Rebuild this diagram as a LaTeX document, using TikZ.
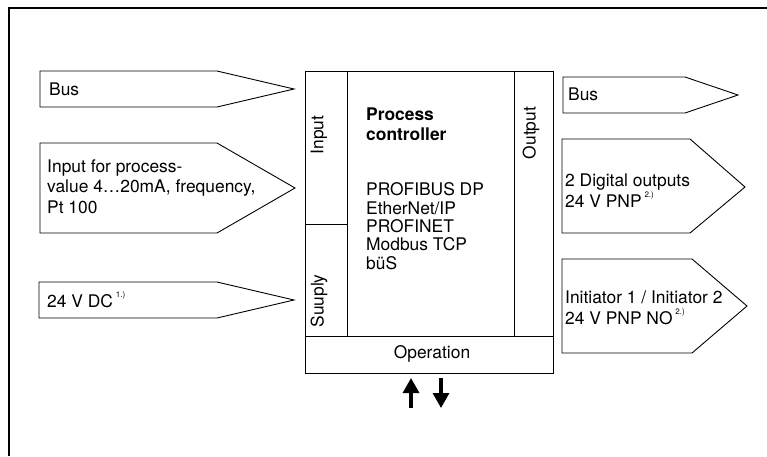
\documentclass[tikz,border=0pt]{standalone}
\usepackage{fontspec}
\setmainfont{TeX Gyre Heros}
\usetikzlibrary{arrows.meta}
\newcommand{\fnmark}[1]{\,\raisebox{0.55em}{\fontsize{8}{8}\selectfont #1}}
\tikzset{
    txt/.style={anchor=base west, inner sep=0pt, align=left,
        font=\fontsize{17.4}{20.5}\selectfont},
    side/.style={rotate=90, inner sep=0pt, font=\fontsize{17.4}{20.5}\selectfont},
    frame/.style={line width=0.9pt, line join=miter},
    flow/.style={-{Triangle[length=15pt,width=16pt]}, line width=3.2pt}
}
\begin{document}
\begin{tikzpicture}[x=1pt, y=-1pt]
        \useasboundingbox
            (0,0) rectangle (767,456);
        % outer frame
        \draw [line width=1.2pt]
            (9,456) -- (9,8) -- (767,8);
        % process controller
        \draw [frame]
            (305,71) rectangle (553,373);
        \draw [frame]
            (347,71) -- (347,336);
        \draw [frame]
            (514,71) -- (514,336);
        \draw [frame]
            (305,224) -- (347,224);
        \draw [frame]
            (305,336) -- (553,336);
        \node [side] (input) at (319,135) {Input};
        \node [side] (supply) at (319,301) {Suuply};
        \node [side] (output) at (531,133) {Output};
        \node [font=\fontsize{17.4}{20.5}\selectfont] (operation) at (432,354) {Operation};
        % base of a two-line text is its last line
        \node [txt, font=\fontsize{17.4}{20}\bfseries] (title) at (366,140) {Process\\controller};
        \node [txt, font=\fontsize{17.4}{18.3}\selectfont] (protocols) at (366,269)
            {PROFIBUS DP\\EtherNet/IP\\PROFINET\\Modbus TCP\\büS};
        % inputs
        \draw [frame]
            (40,71) -- (217,71) -- (294,89) -- (217,107) -- (40,107) -- cycle;
        \node [txt] (busin) at (49,95) {Bus};
        \draw [frame]
            (40,143) -- (217,143) -- (295,188) -- (217,233) -- (40,233) -- cycle;
        \node [txt] (procin) at (47,213) {Input for process-\\value 4…20mA, frequency,\\Pt 100};
        \draw [frame]
            (39,282) -- (217,282) -- (294,300) -- (217,318) -- (39,318) -- cycle;
        \node [txt] (supplyin) at (47,307) {24 V DC\fnmark{1.)}};
        % outputs
        \draw [frame]
            (563,77) -- (685,77) -- (738,95) -- (685,113) -- (563,113) -- cycle;
        \node [txt] (busout) at (568,100) {Bus};
        \draw [frame]
            (562,139) -- (690,139) -- (745,187) -- (690,233) -- (562,233) -- cycle;
        \node [txt] (digout) at (565,207) {2 Digital outputs\\24 V PNP\fnmark{2.)}};
        \draw [frame]
            (562,259) -- (692,259) -- (747,306) -- (692,353) -- (562,353) -- cycle;
        \node [txt] (initout) at (565,324) {Initiator 1 / Initiator 2\\24 V PNP NO\fnmark{2.)}};
        % operation arrows
        \coordinate (upfoot) at (411,408);
        \coordinate (uptip) at (411,378);
        \coordinate (downfoot) at (441,378);
        \coordinate (downtip) at (441,408);
        \draw [flow]
            (upfoot) -- (uptip);
        \draw [flow]
            (downfoot) -- (downtip);
    \end{tikzpicture}
\end{document}
